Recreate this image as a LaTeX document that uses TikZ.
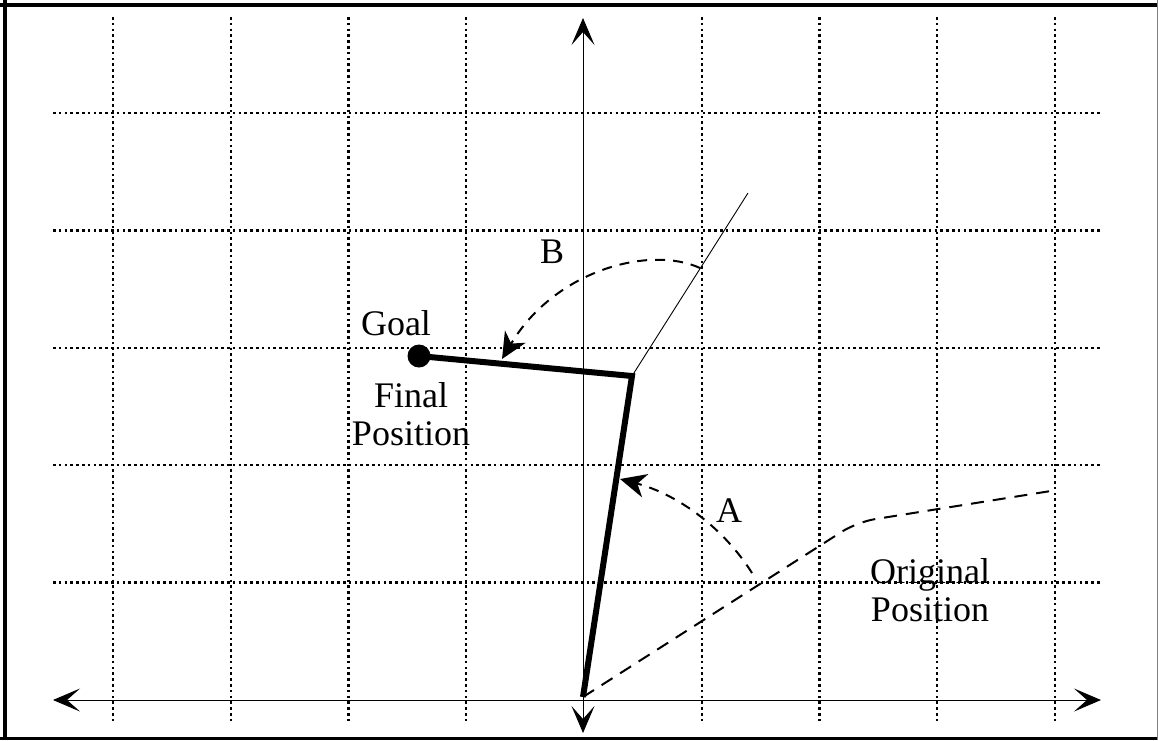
\documentclass[tikz,border=0pt]{standalone}
\usepackage{fontspec}
\setmainfont{Liberation Serif}
\usetikzlibrary{arrows.meta}
\begin{document}
\begin{tikzpicture}[x=1pt,y=-1pt,
  gridline/.style={line width=2.4pt,dash pattern=on 2.6pt off 3.2pt},
  axisline/.style={line width=0.9pt,{Stealth[length=27pt,width=23pt,inset=13pt]}-{Stealth[length=27pt,width=23pt,inset=13pt]}},
  armline/.style={line width=6pt},
  thinline/.style={line width=0.9pt},
  arcline/.style={line width=2pt,dash pattern=on 10pt off 8pt,-{Stealth[length=26pt,width=24pt,inset=8pt]}},
  origline/.style={line width=2pt,dash pattern=on 13pt off 9pt,rounded corners=18pt},
  lbl/.style={font=\fontsize{36}{38}\selectfont,inner sep=0pt,align=center}]
\useasboundingbox (0,0) rectangle (1158,740);
\fill[white] (0,0) rectangle (1158,740);
% frame
\draw[line width=4pt] (5,0) -- (5,740);
\draw[line width=3.5pt] (0,5) -- (1158,5);
\draw[line width=3pt] (0,738) -- (1158,738);
\draw[line width=1pt,gray] (1157,0) -- (1157,740);
% grid
\foreach \i in {0,1,2,3,5,6,7,8} {
  \draw[gridline] ({113+117.75*\i},17) -- ({113+117.75*\i},723);
}
\foreach \j in {0,1,2,3,4} {
  \draw[gridline] (53,{113+117.4*\j}) -- (1100,{113+117.4*\j});
}
% axes
\coordinate (xl) at (53,700);
\coordinate (xr) at (1101,700);
\coordinate (yt) at (583,18);
\coordinate (yb) at (583,733);
\draw[axisline] (xl) -- (xr);
\draw[axisline] (yt) -- (yb);
% arm
\coordinate (O) at (583,697);
\coordinate (E) at (632,376);
\coordinate (T) at (748,193);
\node[circle,fill=black,minimum size=23pt,inner sep=0pt] (goal) at (419,356) {};
\draw[thinline] (E) -- (T);
\draw[armline,line join=miter] (O) -- (E) -- (goal.center);
% original position
\coordinate (P1) at (857,522);
\coordinate (P2) at (1057,490);
\draw[origline] (O) -- (P1) -- (P2);
% arc A
\coordinate (A0) at (752,573);
\coordinate (A1) at (620,479);
\draw[arcline] (A0) .. controls (725,530) and (680,495) .. (A1);
% arc B
\coordinate (B0) at (700,268);
\coordinate (B1) at (502,359);
\draw[arcline] (B0) .. controls (650,245) and (555,270) .. (B1);
% labels
\node[lbl] (lB) at (552,252) {B};
\node[lbl] (lGoal) at (396,323) {Goal};
\node[lbl] (lFinal) at (411,414) {Final\\Position};
\node[lbl] (lA) at (729,511) {A};
\node[lbl] (lOrig) at (930,590) {Original\\Position};
\end{tikzpicture}
\end{document}
